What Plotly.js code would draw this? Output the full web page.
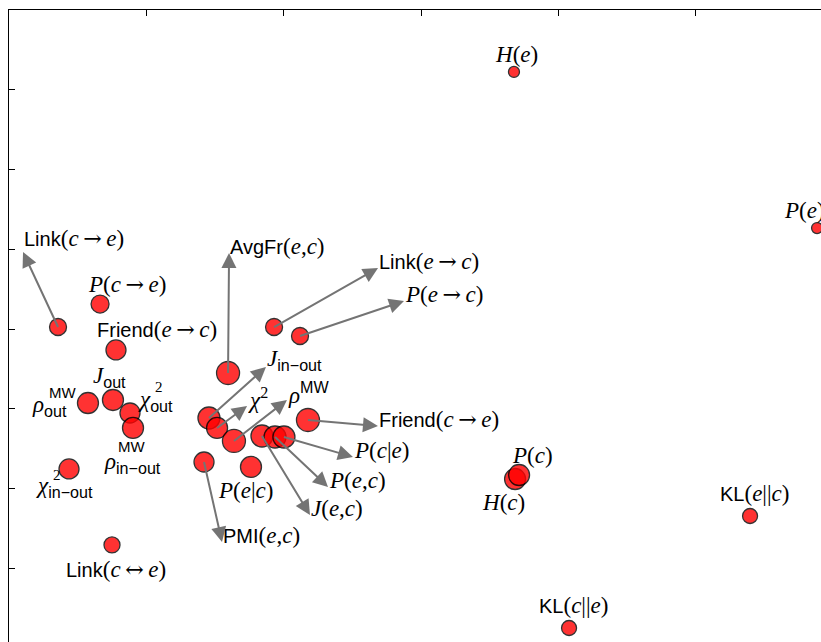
<!DOCTYPE html>
<html><head><meta charset="utf-8">
<script src="https://cdn.plot.ly/plotly-3.0.1.min.js"></script>
<style>html,body{margin:0;padding:0;overflow:hidden;background:#fff}#chart{width:840px;height:655px}</style>
</head><body><div id="chart"></div>
<script>
const SANS = "'Liberation Sans', Arial, sans-serif";
const SERIF = "'Liberation Serif', 'Times New Roman', serif";
const sw = t => `<span style="font-family:${SANS};font-size:20px">${t}</span>`; // sans word
const ss = t => `<span style="font-family:${SANS}">${t}</span>`;                 // sans in sub/sup
const it = t => `<i>${t}</i>`;
const arrowGlyph = g => `\u2009<span style="font-family:'DejaVu Serif';font-size:22px">${g}</span>\u2009`;
const AR = arrowGlyph('\u2192'), LR = arrowGlyph('\u2194');

// ---- data ----
const names = ['H(e)','P(e)','Link(c→e)','P(c→e)','Friend(e→c)','AvgFr(e,c)','Link(e→c)','P(e→c)',
  'J_out','rho_out^MW','chi2_out','rho_in-out^MW','chi2_in-out','Link(c↔e)','J_in-out','chi2','rho^MW',
  'Friend(c→e)','J(e,c)','P(e,c)','P(c|e)','PMI(e,c)','P(e|c)','H(c)','P(c)','KL(e||c)','KL(c||e)'];
const xVals = [3.677,5.884,0.357,0.663,0.779,1.595,1.930,2.119,
  0.757,0.575,0.881,0.903,0.437,0.750,1.456,1.515,1.638,
  2.177,1.842,1.937,2.002,1.420,1.762,3.685,3.714,5.396,4.078];
const yVals = [7.223,5.266,4.025,4.313,3.737,3.448,4.025,3.912,
  3.110,3.072,2.947,2.759,2.245,1.292,2.884,2.759,2.596,
  2.859,2.658,2.646,2.646,2.332,2.270,2.119,2.169,1.655,0.251];
const bubbleSize = [11,11,17,18,20,23,17,17,
  21,21,20,21,20,16,22,21,23,
  23,22,22,22,20,21,21,21,15,15];

// ---- label texts ----
const labels = [
  it('H')+'('+it('e')+')',
  it('P')+'('+it('e')+')',
  sw('Link')+'('+it('c')+AR+it('e')+')',
  it('P')+'('+it('c')+AR+it('e')+')',
  sw('Friend')+'('+it('e')+AR+it('c')+')',
  sw('AvgFr')+'('+it('e')+','+it('c')+')',
  sw('Link')+'('+it('e')+AR+it('c')+')',
  it('P')+'('+it('e')+AR+it('c')+')',
  it('J')+'<sub>'+ss('out')+'</sub>',
  it('ρ')+'<sub>'+ss('out')+'</sub>',
  it('χ')+'<sub>'+ss('out')+'</sub>',
  it('ρ')+'<sub>'+ss('in\u2212out')+'</sub>',
  it('χ')+'<sub>'+ss('in\u2212out')+'</sub>',
  sw('Link')+'('+it('c')+LR+it('e')+')',
  it('J')+'<sub>'+ss('in\u2212out')+'</sub>',
  it('χ')+'<sup>2</sup>',
  it('ρ')+'<sup>'+ss('MW')+'</sup>',
  sw('Friend')+'('+it('c')+AR+it('e')+')',
  it('J')+'('+it('e')+','+it('c')+')',
  it('P')+'('+it('e')+','+it('c')+')',
  it('P')+'('+it('c')+'|'+it('e')+')',
  sw('PMI')+'('+it('e')+','+it('c')+')',
  it('P')+'('+it('e')+'|'+it('c')+')',
  it('H')+'('+it('c')+')',
  it('P')+'('+it('c')+')',
  sw('KL')+'('+it('e')+'||'+it('c')+')',
  sw('KL')+'('+it('c')+'||'+it('e')+')'
];
// stacked superscripts (point index, text)
const supIdx = [9, 10, 11, 12];
const supText = [ss('MW'), '2', ss('MW'), '2'];

// ---- label placement (pixel offsets from the point, screen y down) ----
const labAnchor = ['center','center','left','center','center','left','left','left',
  'center','right','left','left','left','center','left','left','left',
  'left','left','left','left','left','center','center','center','center','center'];
const labDx = [3,-13,-33,27,41,1,104,105,
  -3,-20,7,-30,-34,4,56,31,54,
  70,50,54,69,22,-5,-12,13,4,4];
const labDy = [-17,-18,-86,-20,-20,-125,-66,-42,
  -23,3,-12,35,18,25,-56,-27,-47,
  -1,73,44,15,73,24,23,-20,-23,-22];
const supDx = [-40, 24, -16, -17];
const supDy = [-11, -26, 19, 6];
// arrows from point to label: pixel offset of the arrow tip (null = no arrow)
const arrDx = [null,null,-35,null,null,1,104,104,
  null,null,null,null,null,null,57,30,53,
  70,48,53,69,18,null,null,null,null,null];
const arrDy = [null,null,-75,null,null,-120,-59,-35,
  null,null,null,null,null,null,-51,-22,-41,
  6,79,50,20,80,null,null,null,null,null];
const arrYAnchor = ['','','bottom','','','middle','middle','middle',
  '','','','','','','middle','middle','middle',
  'middle','middle','middle','middle','middle','','','','',''];
const arrBoxH = [0,0,0,0,0,38,38,38,
  0,0,0,0,0,0,43,43,43,
  38,38,38,38,38,0,0,0,0,0];

const ARROW = '#747474';
const FONT = {family: SERIF, size: 23, color: '#000'};
const annotations = [];
names.forEach((n, i) => {
  if (arrDx[i] !== null) {
    const a = {x: xVals[i], y: yVals[i], xref: 'x', yref: 'y', text: labels[i], showarrow: true,
      ax: arrDx[i], ay: arrDy[i], axref: 'pixel', ayref: 'pixel', arrowside: 'start',
      startarrowhead: 2, startarrowsize: 1.5, arrowhead: 2, arrowsize: 1.5, arrowwidth: 2,
      arrowcolor: ARROW, standoff: 0, startstandoff: 0, borderpad: 0,
      xanchor: 'left', yanchor: arrYAnchor[i], font: FONT};
    if (arrBoxH[i]) { a.height = arrBoxH[i]; a.valign = 'top'; }
    annotations.push(a);
  } else {
    annotations.push({x: xVals[i], y: yVals[i], xref: 'x', yref: 'y', text: labels[i], showarrow: false,
      xanchor: labAnchor[i], yanchor: 'middle', xshift: labDx[i], yshift: -labDy[i], borderpad: 0,
      font: FONT});
  }
});
supIdx.forEach((p, k) => {
  annotations.push({x: xVals[p], y: yVals[p], xref: 'x', yref: 'y', text: supText[k], showarrow: false,
    xanchor: 'left', yanchor: 'middle', xshift: supDx[k], yshift: -supDy[k], borderpad: 0,
    font: {family: SERIF, size: 15, color: '#000'}});
});

const axisCommon = {showgrid: false, zeroline: false, showticklabels: false, ticks: 'inside',
  ticklen: 6, tickwidth: 1, tickcolor: '#000', showline: true, linecolor: '#000', linewidth: 1.5,
  mirror: 'ticks', fixedrange: true};

Plotly.newPlot('chart', [{
  type: 'scatter', mode: 'markers', x: xVals, y: yVals, text: names, hoverinfo: 'text',
  marker: {size: bubbleSize, color: 'rgb(255,0,0)', opacity: 0.8, line: {color: '#000', width: 1.3}}
}], {
  width: 840, height: 655, margin: {l: 9, r: 7, t: 10, b: 7},
  paper_bgcolor: '#fff', plot_bgcolor: '#fff', showlegend: false,
  xaxis: Object.assign({range: [0, 6], dtick: 1, tick0: 0}, axisCommon),
  yaxis: Object.assign({range: [0, 8], dtick: 1, tick0: 0}, axisCommon),
  annotations: annotations
}, {displayModeBar: false, staticPlot: true});
</script></body></html>
